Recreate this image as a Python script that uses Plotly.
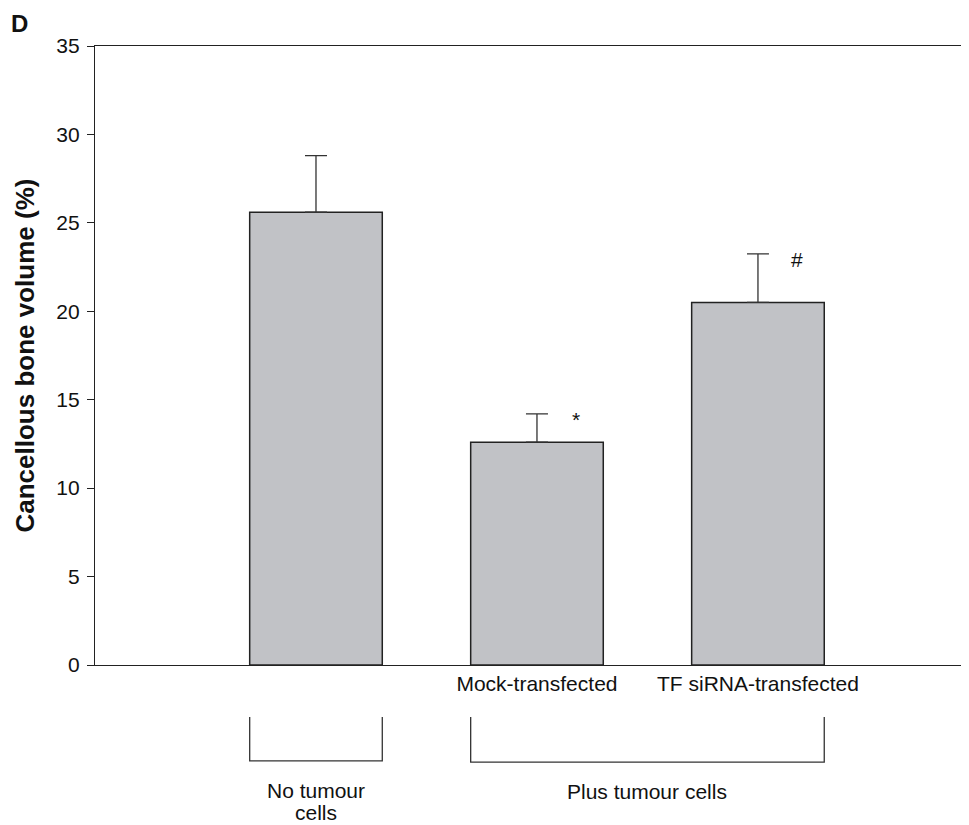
import plotly.graph_objects as go

groups = ["No tumour cells", "Mock-transfected", "TF siRNA-transfected"]
values = [25.6, 12.6, 20.5]
errors = [3.2, 1.6, 2.75]
signif = ["", "*", "#"]
tick_labels = ["", "Mock-transfected", "TF siRNA-transfected"]
y_ticks = [0, 5, 10, 15, 20, 25, 30, 35]

xpos = [1, 2, 3]
FONT = "Liberation Sans, Arial, sans-serif"
FS = 21

fig = go.Figure()
fig.add_trace(go.Bar(
    x=xpos, y=values, width=0.6,
    marker=dict(color="#c1c2c6", line=dict(color="#222222", width=1.5)),
    error_y=dict(type="data", symmetric=False, array=errors,
                 arrayminus=[0] * len(errors), color="#333333",
                 thickness=1.3, width=11),
    showlegend=False,
))

annotations = []
for x, v, e, s in zip(xpos, values, errors, signif):
    if s:
        annotations.append(dict(x=x + 0.175, y=v + e - 0.3, xref="x", yref="y",
                                text=s, showarrow=False, yanchor="middle",
                                font=dict(size=FS, color="#111", family=FONT)))

annotations += [
    dict(x=1, y=-0.2020, xref="x", yref="paper", text="No tumour",
         showarrow=False, yanchor="middle", font=dict(size=FS, color="#111", family=FONT)),
    dict(x=1, y=-0.2375, xref="x", yref="paper", text="cells",
         showarrow=False, yanchor="middle", borderpad=0,
         font=dict(size=FS, color="#111", family=FONT)),
    dict(x=2.5, y=-0.2036, xref="x", yref="paper", text="Plus tumour cells",
         showarrow=False, yanchor="middle", font=dict(size=FS, color="#111", family=FONT)),
    dict(x=-0.0973, y=1.036, xref="paper", yref="paper", text="<b>D</b>",
         showarrow=False, xanchor="left", yanchor="middle", borderpad=0,
         font=dict(size=24, color="#111", family=FONT)),
    dict(x=-0.0812, y=0.5, xref="paper", yref="paper",
         text="<b>Cancellous bone volume (%)</b>", textangle=-90,
         showarrow=False, xanchor="center", yanchor="middle",
         font=dict(size=26, color="#111", family=FONT)),
]

shapes = []
def bracket(x0, x1, y0=-0.084, y1=-0.155):
    return dict(type="path", xref="x", yref="paper",
                path=f"M {x0} {y0} L {x0} {y1} L {x1} {y1} L {x1} {y0}",
                line=dict(color="#333", width=1.3))
shapes.append(bracket(0.7, 1.3))
shapes.append(bracket(1.7, 3.3, y1=-0.157))

fig.update_layout(
    width=961, height=817,
    margin=dict(l=87, r=0, t=38, b=160),
    paper_bgcolor="white", plot_bgcolor="white",
    font=dict(family=FONT, size=FS, color="#111"),
    xaxis=dict(range=[0, 3.955], tickvals=xpos, ticktext=tick_labels,
               showline=True, linecolor="#222", linewidth=1.3, mirror=True,
               ticks="", showgrid=False, zeroline=False,
               tickfont=dict(size=FS, family=FONT, color="#111")),
    yaxis=dict(range=[0, 35], tickvals=y_ticks, showline=True,
               linecolor="#222", linewidth=1.3, ticks="outside", ticklen=7,
               tickcolor="#222", showgrid=False, zeroline=False,
               ticklabelstandoff=3,
               tickfont=dict(size=FS, family=FONT, color="#111")),
    annotations=annotations, shapes=shapes,
)

fig.write_html("out.html")
